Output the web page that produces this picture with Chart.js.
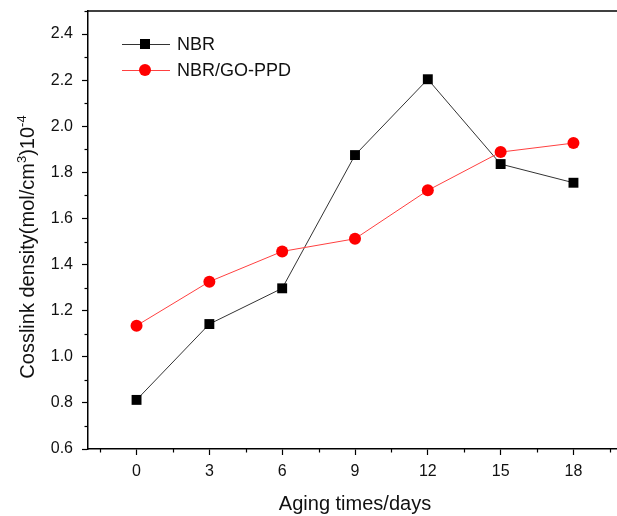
<!DOCTYPE html>
<html>
<head>
<meta charset="utf-8">
<script src="https://cdn.jsdelivr.net/npm/chart.js@4/dist/chart.umd.min.js"></script>
<style>
  html, body { margin: 0; padding: 0; background: #fff; overflow: hidden; }
  #wrap { width: 630px; height: 516px; }
</style>
</head>
<body>
<div id="wrap"><canvas id="chart" width="630" height="516"></canvas></div>
<script>
// aging time in days
const days = [0, 3, 6, 9, 12, 15, 18];
// crosslink density (x 10^-4 mol/cm3)
const nbr = [0.813, 1.142, 1.297, 1.875, 2.204, 1.836, 1.755];
const nbrGoPpd = [1.135, 1.326, 1.457, 1.512, 1.722, 1.888, 1.927];

const xTicks = [0, 3, 6, 9, 12, 15, 18];
const xMinor = [-1.5, 1.5, 4.5, 7.5, 10.5, 13.5, 16.5, 19.5];
const yTicks = [0.6, 0.8, 1.0, 1.2, 1.4, 1.6, 1.8, 2.0, 2.2, 2.4];
const yMinor = [0.7, 0.9, 1.1, 1.3, 1.5, 1.7, 1.9, 2.1, 2.3, 2.5];

const FONT = '"Liberation Sans", Arial, sans-serif';

const toXY = (vals) => vals.map((v, i) => ({ x: days[i], y: v }));

// minor ticks, top frame, y title with superscripts, legend
const extras = {
  id: 'extras',
  afterDraw(chart) {
    const { ctx, chartArea, scales } = chart;
    const x = scales.x, y = scales.y;
    ctx.save();
    ctx.strokeStyle = '#000';
    ctx.lineWidth = 1.5;
    ctx.beginPath();
    ctx.moveTo(chartArea.left, chartArea.top);
    ctx.lineTo(chartArea.right, chartArea.top);
    ctx.stroke();

    ctx.lineWidth = 1.2;
    xMinor.forEach((v) => {
      const px = Math.round(x.getPixelForValue(v)) + 0.5;
      ctx.beginPath();
      ctx.moveTo(px, chartArea.bottom);
      ctx.lineTo(px, chartArea.bottom + 3.5);
      ctx.stroke();
    });
    yMinor.forEach((v) => {
      const py = Math.round(y.getPixelForValue(v)) + 0.5;
      ctx.beginPath();
      ctx.moveTo(chartArea.left, py);
      ctx.lineTo(chartArea.left - 3.5, py);
      ctx.stroke();
    });

    // y axis title
    const parts = [
      { t: 'Cosslink density(mol/cm', sup: false },
      { t: '3', sup: true },
      { t: ')10', sup: false },
      { t: '-4', sup: true }
    ];
    const big = '20px ' + FONT, small = '13px ' + FONT;
    let total = 0;
    parts.forEach((p) => { ctx.font = p.sup ? small : big; p.w = ctx.measureText(p.t).width; total += p.w; });
    ctx.translate(34, 247);
    ctx.rotate(-Math.PI / 2);
    ctx.fillStyle = '#111';
    ctx.textBaseline = 'alphabetic';
    ctx.textAlign = 'left';
    let cx = -total / 2;
    parts.forEach((p) => {
      ctx.font = p.sup ? small : big;
      ctx.fillText(p.t, cx, p.sup ? -8 : 0);
      cx += p.w;
    });
    ctx.restore();

    // legend
    ctx.save();
    const rows = [
      { label: 'NBR', line: '#333', fill: '#000', style: 'rect', yy: 44 },
      { label: 'NBR/GO-PPD', line: '#ff4040', fill: '#ff0000', style: 'circle', yy: 70 }
    ];
    rows.forEach((r) => {
      ctx.strokeStyle = r.line;
      ctx.lineWidth = 1;
      ctx.beginPath();
      ctx.moveTo(122, r.yy + 0.5);
      ctx.lineTo(170, r.yy + 0.5);
      ctx.stroke();
      ctx.fillStyle = r.fill;
      if (r.style === 'rect') {
        ctx.fillRect(145 - 5, r.yy - 5, 10, 10);
      } else {
        ctx.beginPath();
        ctx.arc(145, r.yy, 6, 0, Math.PI * 2);
        ctx.fill();
      }
      ctx.fillStyle = '#111';
      ctx.font = '18px ' + FONT;
      ctx.textBaseline = 'middle';
      ctx.fillText(r.label, 177, r.yy + 1);
    });
    ctx.restore();
  }
};

new Chart(document.getElementById('chart'), {
  type: 'line',
  data: {
    datasets: [
      {
        label: 'NBR/GO-PPD',
        data: toXY(nbrGoPpd),
        borderColor: '#ff4040',
        borderWidth: 1,
        backgroundColor: '#ff0000',
        pointBackgroundColor: '#ff0000',
        pointBorderColor: '#ff0000',
        pointStyle: 'circle',
        pointRadius: 6,
        pointBorderWidth: 0,
        tension: 0,
        order: 0
      },
      {
        label: 'NBR',
        data: toXY(nbr),
        borderColor: '#333',
        borderWidth: 1,
        backgroundColor: '#000',
        pointBackgroundColor: '#000',
        pointBorderColor: '#000',
        pointStyle: 'rect',
        pointRadius: 7,
        pointBorderWidth: 0,
        tension: 0,
        order: 1
      }
    ]
  },
  options: {
    responsive: false,
    animation: false,
    devicePixelRatio: 1,
    layout: { padding: { top: 11, right: 8, left: 0, bottom: 0 } },
    plugins: {
      legend: { display: false },
      tooltip: { enabled: false }
    },
    scales: {
      x: {
        type: 'linear',
        min: -2,
        max: 20,
        afterBuildTicks: (scale) => { scale.ticks = xTicks.map((v) => ({ value: v })); },
        afterFit: (scale) => { scale.height = 67; scale.paddingLeft = 0; scale.paddingRight = 0; },
        ticks: {
          color: '#111',
          font: { family: FONT, size: 16 },
          padding: 7,
          maxRotation: 0
        },
        grid: {
          drawOnChartArea: false,
          drawTicks: true,
          tickLength: 6,
          tickColor: '#000',
          tickWidth: 1.2
        },
        border: { display: true, color: '#000', width: 1.5 },
        title: {
          display: true,
          text: 'Aging times/days',
          color: '#111',
          font: { family: FONT, size: 20 },
          padding: { top: 0, bottom: 0 }
        }
      },
      y: {
        type: 'linear',
        min: 0.6,
        max: 2.5,
        afterBuildTicks: (scale) => { scale.ticks = yTicks.map((v) => ({ value: v })); },
        afterFit: (scale) => { scale.width = 88; scale.paddingTop = 0; scale.paddingBottom = 0; },
        ticks: {
          color: '#111',
          font: { family: FONT, size: 16 },
          padding: 9,
          callback: (v) => Number(v).toFixed(1)
        },
        grid: {
          drawOnChartArea: false,
          drawTicks: true,
          tickLength: 6,
          tickColor: '#000',
          tickWidth: 1.2
        },
        border: { display: true, color: '#000', width: 1.5 }
      }
    }
  },
  plugins: [extras]
});
</script>
</body>
</html>
